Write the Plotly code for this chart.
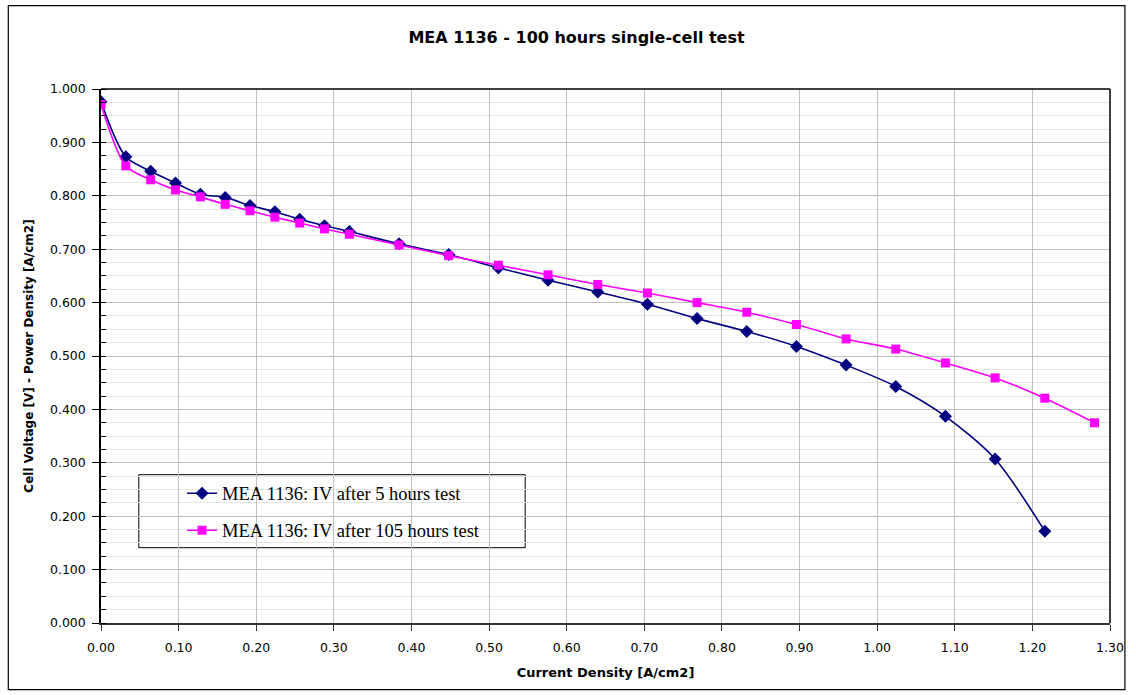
import plotly.graph_objects as go

# Data
current_5h = [0.000, 0.032, 0.064, 0.096, 0.128, 0.160, 0.192, 0.224, 0.256, 0.288, 0.320,
              0.384, 0.448, 0.512, 0.576, 0.640, 0.704, 0.768, 0.832, 0.896, 0.960,
              1.024, 1.088, 1.152, 1.216]
voltage_5h = [0.976, 0.873, 0.846, 0.824, 0.803, 0.797, 0.782, 0.770, 0.756, 0.744, 0.733,
              0.710, 0.690, 0.665, 0.642, 0.620, 0.597, 0.570, 0.546, 0.518, 0.483,
              0.443, 0.387, 0.307, 0.172]
current_105h = [0.000, 0.032, 0.064, 0.096, 0.128, 0.160, 0.192, 0.224, 0.256, 0.288, 0.320,
                0.384, 0.448, 0.512, 0.576, 0.640, 0.704, 0.768, 0.832, 0.896, 0.960,
                1.024, 1.088, 1.152, 1.216, 1.280]
voltage_105h = [0.971, 0.856, 0.830, 0.811, 0.798, 0.784, 0.772, 0.760, 0.749, 0.738, 0.728,
                0.708, 0.688, 0.670, 0.652, 0.634, 0.618, 0.600, 0.582, 0.559, 0.532,
                0.513, 0.487, 0.459, 0.421, 0.375]
names = ["MEA 1136: IV after 5 hours test", "MEA 1136: IV after 105 hours test"]

W, H = 1136, 695
L, R, T, B = 100.5, 1115.0, 89.3, 623.3
pw, ph = R - L, B - T

def px(xp):
    return (xp - L) / pw

def py(yp):
    return (B - yp) / ph

fig = go.Figure()
fig.add_trace(go.Scatter(
    x=current_5h, y=voltage_5h, name=names[0], mode="lines+markers",
    line=dict(color="#000080", width=1.6, shape="spline", smoothing=0.8),
    marker=dict(symbol="diamond", size=10, color="#000080"),
    legendgroup="a"))
fig.add_trace(go.Scatter(
    x=current_105h, y=voltage_105h, name=names[1], mode="lines+markers",
    line=dict(color="#FF00FF", width=1.6, shape="spline", smoothing=0.8),
    marker=dict(symbol="square", size=9, color="#FF00FF"),
    legendgroup="b"))

font = "DejaVu Sans, Arial, sans-serif"
tickfont = dict(family=font, size=12.5, color="black")

fig.update_layout(
    width=W, height=H,
    margin=dict(l=L, r=W - R, t=T, b=H - B, pad=0),
    paper_bgcolor="white", plot_bgcolor="white",
    font=dict(family=font, size=12, color="black"),
    title=dict(text="<b>MEA 1136 - 100 hours single-cell test</b>",
               x=576.5 / W, xref="container", xanchor="center",
               y=1 - 37 / H, yref="container", yanchor="middle",
               font=dict(family=font, size=16, color="black")),
    showlegend=True,
    legend=dict(x=px(182), y=py(475), xanchor="left", yanchor="top",
                bgcolor="rgba(0,0,0,0)", borderwidth=0,
                tracegroupgap=10,
                font=dict(family="Liberation Serif, Times New Roman, serif", size=18.5, color="black")),
    xaxis=dict(range=[0, 1.30], dtick=0.1, tick0=0, tickformat=".2f",
               showgrid=True, gridcolor="#c0c0c0", gridwidth=1,
               showline=True, linecolor="#333333", linewidth=2,
               ticks="outside", ticklen=6, tickcolor="#333333",
               ticklabelstandoff=6,
               zeroline=False, mirror=False,
               title=dict(text="<b>Current Density [A/cm2]</b>", standoff=14,
                          font=dict(family=font, size=13)),
               tickfont=tickfont),
    yaxis=dict(range=[0, 1.0], dtick=0.1, tick0=0, tickformat=".3f",
               showgrid=True, gridcolor="#c0c0c0", gridwidth=1,
               showline=True, linecolor="black", linewidth=1.5,
               ticks="outside", ticklen=7, tickcolor="black",
               ticklabelstandoff=4,
               zeroline=False,
               minor=dict(dtick=0.025, showgrid=True, gridcolor="#e4e4e4",
                          ticks="inside", ticklen=5, tickcolor="black"),
               title=dict(text="<b>Cell Voltage [V] - Power Density [A/cm2]</b>", standoff=14,
                          font=dict(family=font, size=12)),
               tickfont=tickfont),
    shapes=[
        dict(type="line", xref="paper", yref="paper", x0=0, x1=1, y0=1, y1=1,
             line=dict(color="black", width=1.5)),
        dict(type="line", xref="paper", yref="paper", x0=1, x1=1, y0=0, y1=1,
             line=dict(color="black", width=1.5)),
        # legend box
        dict(type="rect", xref="paper", yref="paper",
             x0=px(138.5), x1=px(527), y0=py(475), y1=py(548),
             line=dict(color="black", width=1), fillcolor="white", layer="below"),
        # outer chart border
        dict(type="rect", xref="paper", yref="paper",
             x0=px(7.3), x1=px(1130), y0=py(6), y1=py(690),
             line=dict(color="black", width=1.2)),
    ],
)

fig.write_html("out.html",
               config={"displayModeBar": False},
               post_script="document.body.style.margin='0';"
                           "document.documentElement.style.overflow='hidden';")
